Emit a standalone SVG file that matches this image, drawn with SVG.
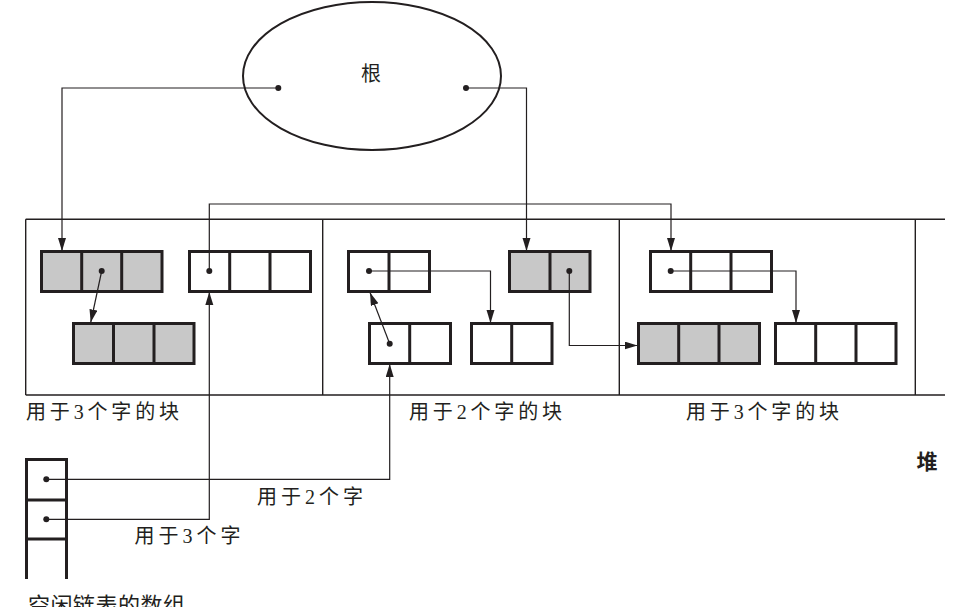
<svg xmlns="http://www.w3.org/2000/svg" width="966" height="607" viewBox="0 0 966 607">
<defs>
<style>
.blk{stroke:#231f20;stroke-width:3;}
.g{fill:#c8c8c8;}
.w{fill:#ffffff;}
.dv{stroke:#231f20;stroke-width:3;fill:none;}
.heap{stroke:#231f20;stroke-width:1.4;fill:none;}
.con{stroke:#231f20;stroke-width:1.2;fill:none;marker-end:url(#ah);}
.dot{fill:#231f20;}
.lbl{font-family:"Liberation Serif","Noto Sans CJK SC",serif;font-size:20px;fill:#231f20;dominant-baseline:central;}
.sans{font-family:"Noto Sans CJK SC","Liberation Sans",sans-serif;fill:#231f20;dominant-baseline:central;}
</style>
<marker id="ah" markerUnits="userSpaceOnUse" markerWidth="14" markerHeight="10" refX="13" refY="4" orient="auto">
<path d="M0,0 L13,4 L0,8 z" fill="#231f20"/>
</marker>
</defs>
<rect width="966" height="607" fill="#ffffff"/>

<g id="root">
<ellipse cx="372" cy="76" rx="129" ry="74" fill="none" stroke="#231f20" stroke-width="2"/>
<text class="sans" x="371" y="72" font-size="20" text-anchor="middle">根</text>
</g>

<g id="heap">
<path class="heap" d="M25.7,219.3 H945 M25.7,395 H945 M25.7,219.3 V395 M322.7,219.3 V395 M619.3,219.3 V395 M915.3,219.3 V395"/>
<text class="sans" x="927" y="460" font-size="21" font-weight="bold" text-anchor="middle">堆</text>
</g>

<g id="blockA">
<rect class="blk g" x="41.5" y="251.5" width="120.5" height="40"/>
<path class="dv" d="M81.7,251.5 V291.5 M121.7,251.5 V291.5"/>
</g>
<g id="blockB">
<rect class="blk g" x="73.5" y="323.5" width="120.5" height="40"/>
<path class="dv" d="M113.5,323.5 V363.5 M154,323.5 V363.5"/>
</g>
<g id="blockC">
<rect class="blk w" x="189.5" y="251.5" width="121" height="40"/>
<path class="dv" d="M229.7,251.5 V291.5 M270,251.5 V291.5"/>
</g>
<g id="blockD">
<rect class="blk w" x="348.5" y="251.5" width="81" height="40"/>
<path class="dv" d="M389,251.5 V291.5"/>
</g>
<g id="blockE">
<rect class="blk g" x="509.5" y="251.5" width="80.5" height="40"/>
<path class="dv" d="M550,251.5 V291.5"/>
</g>
<g id="blockG">
<rect class="blk w" x="369.5" y="323.5" width="81" height="40"/>
<path class="dv" d="M409.7,323.5 V363.5"/>
</g>
<g id="blockF">
<rect class="blk w" x="471.5" y="323.5" width="80.5" height="40"/>
<path class="dv" d="M511.7,323.5 V363.5"/>
</g>
<g id="blockI">
<rect class="blk w" x="650.5" y="251.5" width="121" height="40"/>
<path class="dv" d="M690.7,251.5 V291.5 M731,251.5 V291.5"/>
</g>
<g id="blockH">
<rect class="blk g" x="638.5" y="323.5" width="121" height="40"/>
<path class="dv" d="M678.7,323.5 V363.5 M719,323.5 V363.5"/>
</g>
<g id="blockJ">
<rect class="blk w" x="775.5" y="323.5" width="120.5" height="40"/>
<path class="dv" d="M815.7,323.5 V363.5 M856,323.5 V363.5"/>
</g>

<g id="freelist">
<path class="dv" d="M26.5,579 V459.5 H66.5 V579 M26.5,500 H66.5 M26.5,539 H66.5"/>
<text class="sans" x="28" y="603" font-size="22" textLength="157" lengthAdjust="spacing">空闲链表的数组</text>
</g>

<g id="labels">
<text class="lbl" x="26" y="412" textLength="153" lengthAdjust="spacing">用于3个字的块</text>
<text class="lbl" x="409" y="412" textLength="153" lengthAdjust="spacing">用于2个字的块</text>
<text class="lbl" x="686" y="412" textLength="153" lengthAdjust="spacing">用于3个字的块</text>
<text class="lbl" x="257" y="497" textLength="106" lengthAdjust="spacing">用于2个字</text>
<text class="lbl" x="134.5" y="536" textLength="106" lengthAdjust="spacing">用于3个字</text>
</g>

<g id="connectors">
<path class="con" d="M278.3,88 H62 V251"/>
<path class="con" d="M466,88 H526.5 V251"/>
<path class="con" d="M101.7,271 L90.7,322.5"/>
<path class="con" d="M209.3,271 V204 H671 V251"/>
<path class="con" d="M369,271 H490.5 V323"/>
<path class="con" d="M569.3,271 V345.5 H637.5"/>
<path class="con" d="M389.7,343.7 L370,292.5"/>
<path class="con" d="M670.7,271 H796 V323"/>
<path class="con" d="M46.3,479.3 H389.7 V364"/>
<path class="con" d="M46.3,519.3 H209.3 V292"/>
<circle class="dot" cx="278.3" cy="88" r="3"/>
<circle class="dot" cx="466" cy="88" r="3"/>
<circle class="dot" cx="101.7" cy="271" r="3"/>
<circle class="dot" cx="209.3" cy="271" r="3"/>
<circle class="dot" cx="369" cy="271" r="3"/>
<circle class="dot" cx="569.3" cy="271" r="3"/>
<circle class="dot" cx="389.7" cy="343.7" r="3"/>
<circle class="dot" cx="670.7" cy="271" r="3"/>
<circle class="dot" cx="46.3" cy="479.3" r="3"/>
<circle class="dot" cx="46.3" cy="519.3" r="3"/>
</g>
</svg>
